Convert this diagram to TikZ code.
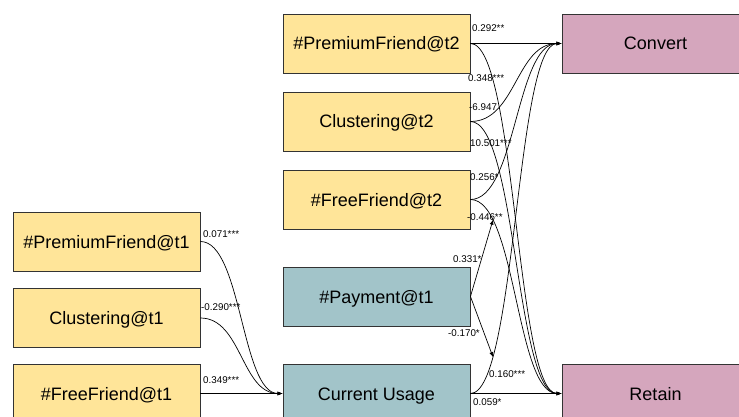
\documentclass[tikz,border=0pt]{standalone}
\usepackage{fontspec}
\setmainfont{Liberation Sans}
\usetikzlibrary{arrows.meta,calc}
\definecolor{boxyellow}{HTML}{FFE599}
\definecolor{boxteal}{HTML}{A2C4C9}
\definecolor{boxpink}{HTML}{D5A6BD}
\definecolor{boxline}{HTML}{333333}
\begin{document}
\begin{tikzpicture}[x=1pt,y=-1pt,
  box/.style={draw=boxline,line width=0.9pt,minimum width=187pt,minimum height=59pt,inner sep=0pt,text height=13pt,text depth=0pt,font=\fontsize{18}{20}\selectfont},
  yb/.style={box,fill=boxyellow},
  tb/.style={box,fill=boxteal},
  pb/.style={box,fill=boxpink},
  edge/.style={draw=black,line width=0.7pt,-{Latex[length=5pt,width=4pt]}},
  curv/.style={to path={let \p1=(\tikztostart), \p2=(\tikztotarget) in
     .. controls ({(\x1+\x2)/2},\y1) and ({(\x1+\x2)/2},\y2) .. (\tikztotarget) \tikztonodes}},
  lab/.style={anchor=west,inner sep=0pt,font=\fontsize{9.8}{11}\selectfont}]
\useasboundingbox (0,0) rectangle (739,417);
\clip (0,0) rectangle (739,417);
% nodes
\node[yb] (pf1) at (106.5,241.5) {\#PremiumFriend@t1};
\node[yb] (cl1) at (106.5,318) {Clustering@t1};
\node[yb] (ff1) at (106.5,393.5) {\#FreeFriend@t1};
\node[yb] (pf2) at (376.5,43.5) {\#PremiumFriend@t2};
\node[yb] (cl2) at (376.5,121.5) {Clustering@t2};
\node[yb] (ff2) at (376.5,199.5) {\#FreeFriend@t2};
\node[tb] (pay) at (376.5,296.5) {\#Payment@t1};
\node[tb] (cu) at (376.5,393.5) {Current Usage};
\node[pb] (conv) at (655.5,43.5) {Convert};
\node[pb] (ret) at (655.5,393.5) {Retain};
% left edges
\draw[edge] (pf1.east) to[curv] (cu.west);
\draw[edge] (cl1.east) to[curv] (cu.west);
\draw[edge] (ff1.east) to[curv] (cu.west);
% to convert
\draw[edge] (pf2.east) to[curv] (conv.west);
\draw[edge] (cl2.east) to[curv] (conv.west);
\draw[edge] (ff2.east) to[curv] (conv.west);
\draw[edge] (cu.east) to[curv] coordinate[pos=0.2] (m2) (conv.west);
% to retain
\draw[edge] (pf2.east) to[curv] (ret.west);
\draw[edge] (cl2.east) to[curv] (ret.west);
\draw[edge] (ff2.east) to[curv] coordinate[pos=0.2] (m1) (ret.west);
\draw[edge] (cu.east) to[curv] (ret.west);
% moderation
\draw[edge] (pay.east) -- (m1);
\draw[edge] (pay.east) -- (m2);
% labels
\node[lab] (l1) at (472,28) {0.292**};
\node[lab] (l2) at (468,78) {0.348***};
\node[lab] (l3) at (469,107) {-6.947};
\node[lab] (l4) at (470,143) {10.501***};
\node[lab] (l5) at (470,177) {0.256*};
\node[lab] (l6) at (467,217) {-0.446**};
\node[lab] (l7) at (453,259) {0.331*};
\node[lab] (l8) at (448,333) {-0.170*};
\node[lab] (l9) at (489,374) {0.160***};
\node[lab] (l10) at (473,402) {0.059*};
\node[lab] (l11) at (203,234) {0.071***};
\node[lab] (l12) at (201,307) {-0.290***};
\node[lab] (l13) at (203,380) {0.349***};
\end{tikzpicture}
\end{document}
